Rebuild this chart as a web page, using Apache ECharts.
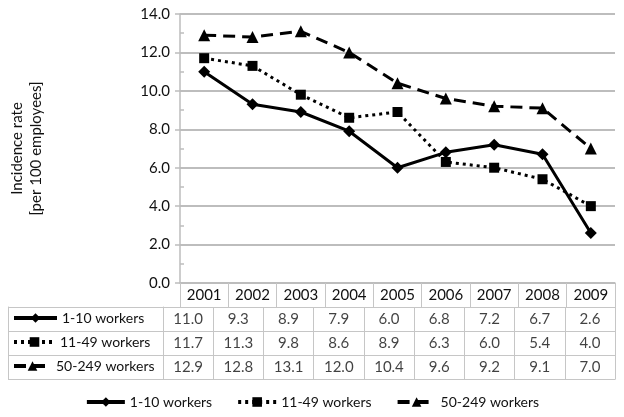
<!DOCTYPE html>
<html>
<head>
<meta charset="utf-8">
<script src="https://cdn.jsdelivr.net/npm/echarts@6/dist/echarts.min.js"></script>
<style>
html,body{margin:0;padding:0;background:#fff;}
#c{width:624px;height:417px;}
</style>
</head>
<body>
<div id="c"></div>
<script>
const years = ['2001','2002','2003','2004','2005','2006','2007','2008','2009'];
const seriesNames = ['1-10 workers','11-49 workers','50-249 workers'];
const rate1to10 = [11.0, 9.3, 8.9, 7.9, 6.0, 6.8, 7.2, 6.7, 2.6];
const rate11to49 = [11.7, 11.3, 9.8, 8.6, 8.9, 6.3, 6.0, 5.4, 4.0];
const rate50to249 = [12.9, 12.8, 13.1, 12.0, 10.4, 9.6, 9.2, 9.1, 7.0];
const yMin = 0, yMax = 14, yStep = 2;
const yTitle = 'Incidence rate\n[per 100 employees]';

const allRates = [rate1to10, rate11to49, rate50to249];
const FONT = 'Lato';
const FS = 15;
const FS_LEG = 14;
const TXT = '#111';
const GRIDC = '#bdbdbd';
const TABC = '#c6c6c6';

const tableData = [];
allRates.forEach((arr, r) => arr.forEach((v, i) => tableData.push([i, r, v])));

const lineStyles = [
  {type: 'solid', width: 3},
  {type: [3, 4], width: 3},
  {type: [12, 7], width: 3}
];
const symbols = ['diamond', 'rect', 'triangle'];
const symbolSizes = [12, 10, 12];

const chart = echarts.init(document.getElementById('c'), null, {renderer: 'canvas'});

const rowCenters = [319, 343, 367];
const rowIconWidths = [43, 41, 37];

chart.setOption({
  animation: false,
  textStyle: {fontFamily: FONT, color: TXT},
  grid: [
    {left: 163, top: 14, width: 452, height: 269},
    {left: 163, top: 307, width: 452, height: 72}
  ],
  xAxis: [
    {
      type: 'category', gridIndex: 0, data: years, boundaryGap: true,
      axisLine: {show: true, lineStyle: {color: GRIDC, width: 1.5}},
      axisTick: {show: true, length: 24, lineStyle: {color: TABC, width: 1}},
      axisLabel: {fontFamily: FONT, fontSize: FS, color: TXT, margin: 5},
      splitLine: {show: false}
    },
    {
      type: 'category', gridIndex: 1, data: years, boundaryGap: true,
      axisLine: {show: true, lineStyle: {color: TABC, width: 1}},
      axisTick: {show: false},
      axisLabel: {show: false},
      splitLine: {show: true, lineStyle: {color: TABC, width: 1}}
    }
  ],
  yAxis: [
    {
      type: 'value', gridIndex: 0, min: yMin, max: yMax, interval: yStep,
      name: yTitle, nameLocation: 'middle', nameRotate: 90, nameGap: 134,
      nameTextStyle: {fontFamily: FONT, fontSize: FS, color: TXT, lineHeight: 19},
      axisLine: {show: true, lineStyle: {color: GRIDC, width: 1.5}},
      axisTick: {show: true, length: 5, lineStyle: {color: GRIDC, width: 1.5}},
      axisLabel: {fontFamily: FONT, fontSize: FS, color: TXT, margin: 10,
        formatter: v => v.toFixed(1)},
      splitLine: {show: true, lineStyle: {color: GRIDC, width: 2}}
    },
    {
      type: 'value', gridIndex: 0, min: yMin, max: yMax, interval: yStep, position: 'left',
      axisLine: {show: false},
      axisTick: {show: false, inside: true},
      minorTick: {show: true, splitNumber: 2, length: 4, lineStyle: {color: GRIDC, width: 1.5}},
      axisLabel: {show: false},
      splitLine: {show: false}
    },
    {
      type: 'category', gridIndex: 1, data: seriesNames, inverse: true, boundaryGap: true,
      axisLine: {show: true, lineStyle: {color: TABC, width: 1}},
      axisTick: {show: true, length: 155, lineStyle: {color: TABC, width: 1}},
      axisLabel: {show: false},
      splitLine: {show: true, lineStyle: {color: TABC, width: 1}}
    },
    {
      type: 'category', gridIndex: 1, data: seriesNames, inverse: true, position: 'left', offset: 155,
      axisLine: {show: true, lineStyle: {color: TABC, width: 1}},
      axisTick: {show: false}, axisLabel: {show: false}, splitLine: {show: false}
    },
    {
      type: 'category', gridIndex: 1, data: seriesNames, inverse: true, position: 'right',
      axisLine: {show: true, lineStyle: {color: TABC, width: 1}},
      axisTick: {show: false}, axisLabel: {show: false}, splitLine: {show: false}
    }
  ],
  legend: [
    {
      data: seriesNames, left: 'center', top: 395, padding: 0,
      itemWidth: 38, itemHeight: 12, itemGap: 24, selectedMode: false,
      lineStyle: {width: 4},
      textStyle: {fontFamily: FONT, fontSize: FS_LEG, color: TXT}
    }
  ].concat(seriesNames.map((n, r) => ({
      data: [n], left: 12, top: rowCenters[r] - 8, padding: 0,
      itemWidth: rowIconWidths[r], itemHeight: 12, selectedMode: false,
      lineStyle: {width: 4},
      textStyle: {fontFamily: FONT, fontSize: FS_LEG, color: TXT}
  }))),
  series: seriesNames.map((n, k) => ({
    name: n, type: 'line', xAxisIndex: 0, yAxisIndex: 0,
    data: allRates[k],
    symbol: symbols[k], symbolSize: symbolSizes[k], showSymbol: true,
    lineStyle: Object.assign({color: '#000'}, lineStyles[k]),
    itemStyle: {color: '#000'},
    z: 3 + k
  })).concat([{
    name: 'table', type: 'scatter', xAxisIndex: 1, yAxisIndex: 2,
    data: tableData, symbolSize: 0,
    label: {show: true, position: 'inside', fontFamily: FONT, fontSize: FS, color: TXT,
      formatter: p => p.value[2].toFixed(1)},
    silent: true
  }])
});
</script>
</body>
</html>
